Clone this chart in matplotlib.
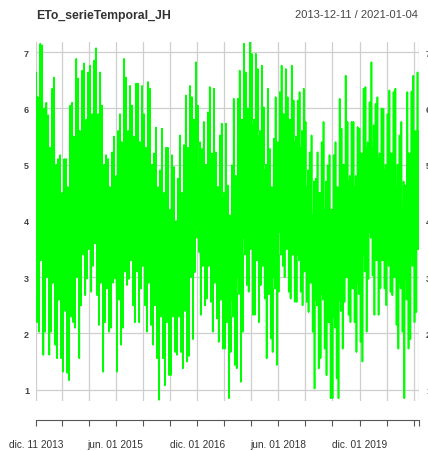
import numpy as np
import pandas as pd
import matplotlib
matplotlib.use("Agg")
import matplotlib.pyplot as plt
import matplotlib.dates as mdates

plt.rcParams["font.family"] = ["Liberation Sans", "DejaVu Sans"]

series_name = "ETo_serieTemporal_JH"
start_date = "2013-12-11"
end_date = "2021-01-04"

# Daily ETo extremes (mm/day) in consecutive ~20-day windows, start to end
eto_high = [
    6.64, 7.15, 7.12, 6.10, 5.88, 6.35, 6.55, 5.10, 5.17, 5.10, 5.10, 6.05, 6.10, 6.88,
    6.53, 6.67, 6.80, 6.64, 6.76, 6.85, 7.07, 6.64, 6.05, 5.17, 5.10, 5.22, 5.50,
    5.60, 5.90, 6.88, 6.55, 6.40, 6.05, 6.44, 6.44, 6.40, 5.90, 6.47, 6.35, 5.20,
    5.66, 4.90, 5.64, 5.30, 5.30, 5.17, 4.96, 4.75, 5.52, 5.35, 6.23, 6.40,
    6.20, 6.82, 6.05, 5.28, 5.76, 5.93, 6.38, 6.35, 5.22, 5.52, 5.73, 5.73, 4.63,
    4.99, 6.17, 6.17, 6.67, 7.15, 6.64, 7.18, 6.97, 6.97, 6.70, 6.76, 6.02,
    6.35, 5.28, 5.46, 6.20, 6.29, 6.76, 6.70, 6.20, 6.76, 6.14, 6.14, 6.29, 6.35,
    5.76, 5.22, 5.52, 4.75, 5.22, 5.40, 5.76, 4.99, 5.17, 5.17, 5.40, 6.17,
    5.64, 6.58, 5.76, 5.76, 5.76, 5.67, 5.64, 6.35, 6.38, 6.11, 6.82, 6.08, 6.20,
    6.00, 5.99, 5.90, 6.32, 6.29, 6.35, 5.52, 5.76, 4.63, 6.29, 6.30, 6.58, 6.64,
]
eto_low = [
    2.20, 2.03, 1.62, 2.03, 1.62, 2.03, 1.80, 1.56, 1.56, 1.32, 1.30, 1.17, 2.20, 2.10,
    1.56, 2.50, 2.68, 2.98, 2.74, 3.20, 2.68, 2.15, 1.32, 2.20, 2.03, 2.10, 2.98,
    1.32, 1.80, 2.10, 2.86, 2.97, 2.50, 2.20, 2.20, 2.80, 2.50, 2.03, 2.15, 1.80,
    1.56, 0.82, 1.56, 1.08, 1.26, 1.26, 1.67, 1.62, 1.67, 1.38, 1.50, 1.60,
    1.90, 3.09, 3.45, 2.33, 2.50, 2.62, 2.56, 2.03, 2.27, 1.85, 1.73, 1.73, 0.85,
    1.67, 1.44, 1.38, 1.14, 2.03, 2.86, 2.74, 2.33, 2.33, 2.20, 2.86, 2.62,
    1.56, 1.91, 1.67, 1.44, 2.74, 3.20, 3.00, 2.74, 2.62, 2.56, 2.56, 2.74, 2.50,
    2.56, 2.38, 2.03, 1.02, 1.38, 1.56, 1.73, 1.26, 0.85, 0.85, 1.20, 0.85,
    1.73, 2.56, 2.33, 2.20, 2.20, 1.67, 1.85, 1.50, 2.03, 2.97, 3.03, 2.33, 2.33,
    2.80, 2.80, 2.50, 2.74, 2.68, 2.15, 1.73, 2.03, 0.85, 1.73, 1.90, 2.20, 2.38,
]

# Edges of the densely packed typical values in the same windows
typical_high = [
    5.9, 6.2, 6.0, 5.4, 5.2, 5.3, 5.0, 4.6, 4.5, 4.4, 4.3, 4.6, 4.9, 5.5,
    5.3, 5.6, 5.8, 5.6, 5.9, 5.7, 5.9, 5.5, 5.0, 4.6, 4.5, 4.6, 4.8,
    4.5, 4.8, 5.4, 5.6, 5.4, 5.2, 5.5, 5.3, 5.4, 5.0, 5.3, 5.0, 4.4,
    4.6, 4.1, 4.5, 4.3, 4.2, 4.1, 4.0, 3.9, 4.4, 4.5, 5.0, 5.3,
    5.4, 5.8, 5.4, 4.8, 4.9, 5.0, 5.2, 5.1, 4.6, 4.6, 4.5, 4.4, 4.0,
    4.1, 4.6, 4.8, 5.2, 5.8, 5.9, 6.0, 5.8, 5.7, 5.6, 5.5, 5.0,
    4.9, 4.5, 4.6, 5.1, 5.4, 5.8, 5.9, 5.6, 5.8, 5.5, 5.4, 5.6, 5.3,
    4.9, 4.6, 4.7, 4.1, 4.4, 4.5, 4.7, 4.2, 4.1, 4.2, 4.4, 4.6,
    4.5, 5.0, 4.8, 4.7, 4.8, 4.6, 4.8, 5.2, 5.4, 5.3, 5.7, 5.3, 5.2,
    5.1, 5.0, 4.9, 5.1, 5.2, 5.0, 4.6, 4.7, 4.2, 5.0, 5.2, 5.5, 5.6,
]
typical_low = [
    3.4, 3.6, 3.3, 3.5, 3.0, 3.2, 2.9, 2.7, 2.6, 2.4, 2.5, 2.3, 2.9, 3.1,
    3.0, 3.4, 3.5, 3.7, 3.5, 3.8, 3.6, 3.2, 2.9, 3.0, 2.8, 2.9, 3.3,
    2.6, 2.8, 3.1, 3.4, 3.5, 3.3, 3.1, 3.2, 3.4, 3.2, 3.0, 2.9, 2.6,
    2.5, 2.3, 2.5, 2.3, 2.2, 2.3, 2.4, 2.3, 2.5, 2.4, 2.8, 3.0,
    3.1, 3.7, 3.9, 3.3, 3.2, 3.3, 3.2, 3.0, 2.9, 2.7, 2.6, 2.5, 2.2,
    2.3, 2.6, 2.7, 3.0, 3.4, 3.7, 3.8, 3.5, 3.4, 3.3, 3.6, 3.2,
    2.8, 2.7, 2.8, 3.0, 3.4, 3.8, 3.7, 3.5, 3.6, 3.4, 3.3, 3.4, 3.3,
    3.1, 3.0, 2.9, 2.5, 2.6, 2.6, 2.7, 2.4, 2.2, 2.1, 2.3, 2.4,
    2.6, 3.1, 3.0, 2.9, 2.8, 2.7, 2.9, 3.1, 3.4, 3.7, 3.8, 3.4, 3.3,
    3.4, 3.3, 3.2, 3.3, 3.2, 3.0, 2.8, 2.9, 2.6, 3.0, 3.2, 3.4, 3.5,
]

y_ticks = [1, 2, 3, 4, 5, 6, 7]
x_label_dates = ["2013-12-11", "2015-06-01", "2016-12-01", "2018-06-01", "2019-12-01"]
x_label_text = ["dic. 11 2013", "jun. 01 2015", "dic. 01 2016", "jun. 01 2018", "dic. 01 2019"]

# ---- drawn trace: inside each window the values swing across the typical band,
# with one upward and one downward daily spike reaching the window's extremes
t0 = mdates.datestr2num(start_date)
t1 = mdates.datestr2num(end_date)
n = len(eto_high)
win = np.linspace(t0, t1 - 19, n)
hi = np.asarray(eto_high)
lo = np.asarray(eto_low)
c_hi = np.minimum(np.asarray(typical_high), hi)
c_lo = np.maximum(np.asarray(typical_low), lo)

offs = np.array([0, 1, 2, 4, 6, 8, 9, 10, 12, 14, 16, 18])
xs, ys = [], []
for i in range(n):
    j = min(i + 1, n - 1)
    a, b, H, L = c_hi[i], c_lo[i], hi[i], lo[i]
    a2, b2 = min(c_hi[j], H), max(c_lo[j], L)
    if i % 2 == 0:
        vals = [a, H, a, b, a2, b2, L, b, a2, b, a, b2]
    else:
        vals = [b, L, b, a, b2, a2, H, a, b2, a, b, a2]
    xs += list(win[i] + offs)
    ys += vals

fig = plt.figure(figsize=(4.28, 4.52), dpi=100)
ax = fig.add_axes([36 / 428, 1 - 402 / 452, 383 / 428, 359 / 452])
ax.plot(xs, ys, color="#00ff00", lw=1.2, zorder=3)

ax.set_xlim(t0, t1)
ax.set_ylim(0.80, 7.18)

# grid / tick positions: every six months plus the ends of the series
six_month = list(mdates.date2num(pd.date_range("2014-06-01", "2020-12-01", freq="6MS").to_pydatetime()))
tick_pos = [t0] + six_month + [t1]
label_pos = list(mdates.datestr2num(x_label_dates))
labels = []
for p in tick_pos:
    match = [txt for lp, txt in zip(label_pos, x_label_text) if abs(lp - p) < 0.5]
    labels.append(match[0] if match else "")
ax.set_xticks(tick_pos)
ax.set_xticklabels(labels)
ax.set_yticks(y_ticks)

ax.set_axisbelow(True)
ax.grid(True, color="#cfcfcf", lw=0.9)

for s in ["top", "left", "right"]:
    ax.spines[s].set_visible(False)
ax.spines["bottom"].set_position(("outward", 13.7))
ax.spines["bottom"].set_color("#555555")
ax.spines["bottom"].set_linewidth(0.8)

ax.tick_params(axis="x", direction="out", length=4.3, width=0.8, color="#555555",
               labelsize=7.3, labelcolor="#333333", pad=9)
ax.tick_params(axis="y", length=0, pad=5, labelsize=6.5, labelcolor="#444444",
               labelleft=True, labelright=True)
for tk in ax.yaxis.get_major_ticks():
    tk.label1.set_fontweight("bold")
    tk.label2.set_fontweight("bold")

fig.text(36 / 428, 1 - 16 / 452, series_name, ha="left", va="center",
         fontsize=8.8, fontweight="bold", color="#333333")
fig.text(418 / 428, 1 - 15 / 452, f"{start_date} / {end_date}", ha="right",
         va="center", fontsize=8, color="#444444")

fig.savefig("out.png", dpi=100)
